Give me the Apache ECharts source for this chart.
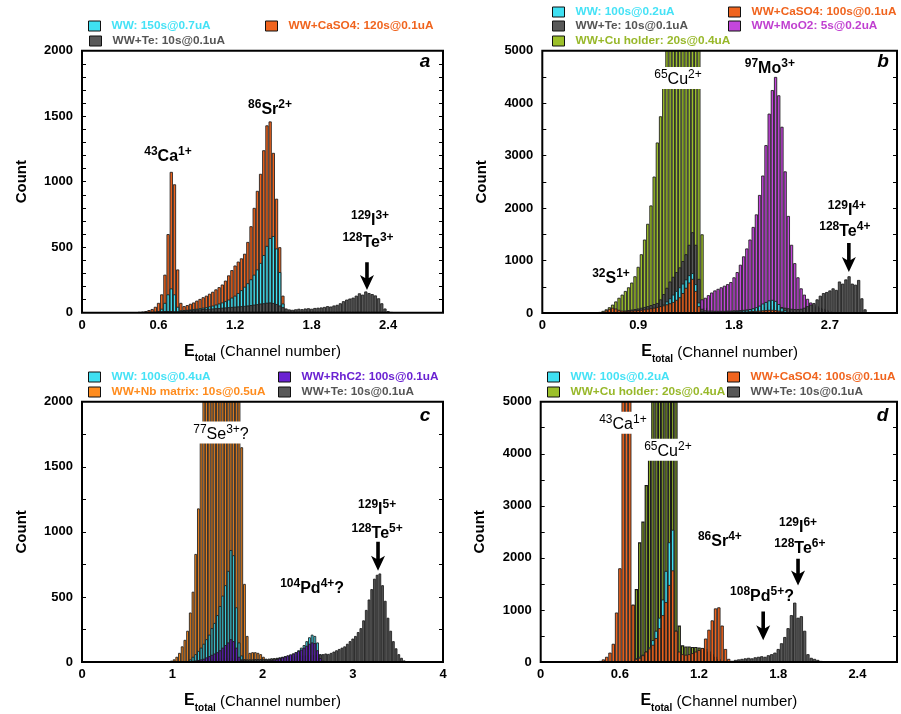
<!DOCTYPE html>
<html><head><meta charset="utf-8">
<script src="https://cdn.jsdelivr.net/npm/echarts@6/dist/echarts.min.js"></script>
<style>html,body{margin:0;padding:0;background:#fff}#c{width:901px;height:714px}</style>
</head><body><div id="c"></div>
<script>
// ---------------- DATA ----------------
// histogram bin step (channel units) per panel a,b,c,d
const binStep = [0.025, 0.03, 0.03, 0.025];
// axis ranges
const xMax = [2.83, 3.33, 4, 2.70];
const xInterval = [0.6, 0.9, 1, 0.6];
const yMax = [2000, 5000, 2000, 5000];
const yInterval = [500, 1000, 500, 1000];
const yMinorSplit = [5, 2, 2, 2];

// Panel a
const aCaSO4Start = 0.45;
const aCaSO4 = [5,8,12,20,28,45,75,140,290,600,1075,980,330,75,50,58,68,78,92,105,118,130,145,160,178,195,215,245,285,325,360,390,415,450,540,660,800,930,1060,1240,1430,1460,1220,870,500,130];
const aWWStart = 0.60;
const aWW = [10,30,75,140,185,140,45,18,20,22,25,28,30,34,38,42,48,54,62,70,78,88,100,115,130,150,172,198,225,255,290,330,380,440,510,570,585,490,310,70];
const aTeStart = 0.55;
const aTe = [3,5,8,10,12,12,12,10,10,14,15,18,20,22,24,25,28,29,30,32,34,35,38,40,42,44,46,48,50,52,55,58,62,65,70,72,76,78,74,66,55,42,32,25,22,26,30,27,32,34,30,36,38,40,44,50,47,55,60,72,88,100,108,115,130,148,138,162,150,142,132,110,72,32,12,4];

// Panel b
const bCuStart = 0.51;
const bCu = [10,20,40,70,110,160,220,290,350,420,490,580,700,880,1120,1400,1700,2050,2600,3250,3750,4300,5600,7000,8200,9200,9800,10000,9600,9000,8200,7200,6000,1500,100];
const bMoStart = 1.50;
const bMo = [260,290,340,390,430,460,490,520,550,590,680,780,920,1080,1230,1400,1640,1880,2250,2620,3200,3800,4250,4500,4150,3550,2700,1850,1300,950,680,470,350,270,200,170,130,100,80,60,40,25];
const bTeStart = 0.63;
const bTe = [10,15,20,25,35,45,55,65,75,85,100,115,130,150,170,190,260,360,480,600,690,780,870,990,1120,1300,1540,1300,650,80,50,45,45,40,40,40,40,45,45,50,50,55,60,65,70,80,90,100,110,120,130,135,130,120,110,100,90,80,75,75,80,100,130,160,190,260,330,380,400,430,470,440,600,560,640,700,560,540,630,280,70,15];
const bWWStart = 0.84;
const bWW = [10,15,20,30,40,50,60,75,95,120,160,220,280,350,420,490,560,640,720,760,550,200,30,15,15,15,15,18,20,22,25,28,30,35,40,50,60,75,90,110,140,180,210,240,250,230,170,100,50,20];
const bCaSO4Start = 0.57;
const bCaSO4 = [20,50,80,100,85,60,45,40,40,45,50,55,60,70,80,90,100,115,130,145,165,185,210,250,300,380,480,580,650,420,130,20,10,10,10,10,10,12,12,15,15,18,20,22,25,28,32,36,40,45,50,55,60,60,55,45,30,15];

// Panel c
const cNbStart = 0.99;
const cNb = [10,20,40,70,120,170,240,380,540,830,1180,1750,2500,3000,3500,3800,4000,4000,3800,3600,3400,3200,3000,2800,2500,2200,1650,600,200,70,75,75,70,60,40,20,8];
const cWWStart = 1.20;
const cWW = [20,40,60,85,110,140,175,210,260,300,360,430,510,590,700,860,820,420,150,50,20,15,15,15,15,15,15,15,20,20,25,25,30,35,40,45,50,55,65,75,90,110,130,160,190,210,200,150,60,15];
const cTeStart = 1.20;
const cTe = [5,8,10,12,15,18,20,22,24,25,26,28,30,30,30,30,28,25,22,20,20,20,20,20,22,22,22,24,25,26,28,30,32,34,36,38,40,42,44,46,48,50,50,52,52,54,55,56,58,60,65,62,70,80,90,100,110,120,140,160,180,200,230,260,320,400,480,560,640,670,680,590,470,340,240,160,105,60,32,12,5];
const cRhStart = 1.26;
const cRh = [10,15,20,25,35,45,55,65,75,90,110,130,150,175,160,110,40,15,10,8,8,8,8,8,8,10,10,12,15,18,22,28,35,42,50,58,65,75,85,95,110,125,140,150,145,90,30,8];

// Panel d
const dCuStart = 0.70;
const dCu = [1100,1400,2300,2700,3400,4200,6000,7500,8500,9200,9500,9000,8000,6000,700,320,300,300,290,290,280,270,250,200,150,100,60,30];
const dWWStart = 0.70;
const dWW = [40,70,100,140,200,280,420,600,850,1200,1750,2300,2540,600,150,40];
const dCaSO4Start = 0.45;
const dCaSO4 = [20,50,100,180,350,950,1800,6000,7500,6500,1100,60,80,130,200,260,330,460,650,900,1150,1480,1760,600,200,150,140,150,170,200,230,270,450,620,800,1030,1050,700,250,60,20];
const dTeStart = 1.45;
const dTe = [20,40,50,60,70,80,70,90,100,110,100,130,150,180,250,360,480,650,900,1140,850,880,600,150,80,60,40,20];

// Series names
const nA = ['WW+CaSO4: 120s@0.1uA', 'WW: 150s@0.7uA', 'WW+Te: 10s@0.1uA'];
const nB = ['WW+Cu holder: 20s@0.4uA', 'WW+MoO2: 5s@0.2uA', 'WW+Te: 10s@0.1uA', 'WW: 100s@0.2uA', 'WW+CaSO4: 100s@0.1uA'];
const nC = ['WW+Nb matrix: 10s@0.5uA', 'WW: 100s@0.4uA', 'WW+Te: 10s@0.1uA', 'WW+RhC2: 100s@0.1uA'];
const nD = ['WW+Cu holder: 20s@0.4uA', 'WW: 100s@0.2uA', 'WW+CaSO4: 100s@0.1uA', 'WW+Te: 10s@0.1uA'];

// Annotations [x, y, richText, kind]  (data coordinates)
const annA = [[0.674,1204,'{s|43}{m|Ca}{s|1+}','b'],[1.474,1563,'{s|86}{m|Sr}{s|2+}','b'],[2.258,715,'{s|129}{m|I}{s|3+}','b'],[2.242,547,'{s|128}{m|Te}{s|3+}','b'],[2.69,1915,'a','l']];
const annB = [[1.274,4480,'{s|65}{m|Cu}{s|2+}','w'],[2.136,4689,'{s|97}{m|Mo}{s|3+}','b'],[0.645,686,'{s|32}{m|S}{s|1+}','b'],[2.86,1982,'{s|129}{m|I}{s|4+}','b'],[2.84,1582,'{s|128}{m|Te}{s|4+}','b'],[3.2,4780,'b','l']];
const annC = [[1.54,1763,'{s|77}{m|Se}{s|3+}{m|?}','w'],[3.27,1183,'{s|129}{m|I}{s|5+}','b'],[3.27,1000,'{s|128}{m|Te}{s|5+}','b'],[2.55,572,'{s|104}{m|Pd}{s|4+}{m|?}','b'],[3.80,1890,'c','l']];
const annD = [[0.623,4594,'{s|43}{m|Ca}{s|1+}','w'],[0.964,4079,'{s|65}{m|Cu}{s|2+}','w'],[1.358,2345,'{s|86}{m|Sr}{s|4+}','b'],[1.95,2612,'{s|129}{m|I}{s|6+}','b'],[1.964,2211,'{s|128}{m|Te}{s|6+}','b'],[1.677,1277,'{s|108}{m|Pd}{s|5+}{m|?}','b'],[2.59,4727,'d','l']];
// Arrows [x, yStart, yTip]
const arrA = [[2.234,386,173]];
const arrB = [[2.878,1334,780]];
const arrC = [[3.28,924,702]];
const arrD = [[1.95,1982,1468],[1.686,972,419]];

// ---------------- STYLE / LAYOUT ----------------
const FONT = "'Liberation Sans', Arial, Helvetica, sans-serif";
const C = {cyan:'#3fe0f2', caso4:'#f0641e', te:'#585858', cu:'#9cc02a', mo:'#c446dc', rh:'#6a22d2', nb:'#ff8c1e'};
const grids = [
  {left:82, top:50.7, width:361, height:262},
  {left:542.3, top:50.7, width:354.7, height:262.3},
  {left:82, top:401.7, width:361, height:262.3},
  {left:540.7, top:401.7, width:356.3, height:262.3}
];

function bins(start, step, vals) {
  return vals.map((v, i) => [Math.round((start + i * step) * 10000) / 10000, v]);
}
function bar(g, name, color, start, vals, bw) {
  const w = binStep[g] * grids[g].width / xMax[g];
  return {
    type:'bar', name, xAxisIndex:g, yAxisIndex:g*2, data:bins(start, binStep[g], vals),
    barWidth:w, barGap:'-100%', clip:true, silent:true,
    itemStyle:{color, borderColor:'#1a1a1a', borderWidth:bw || 0.85},
    emphasis:{disabled:true}
  };
}

const series = [
  bar(0, nA[0], C.caso4, aCaSO4Start, aCaSO4),
  bar(0, nA[1], C.cyan, aWWStart, aWW),
  bar(0, nA[2], C.te, aTeStart, aTe),
  bar(1, nB[0], C.cu, bCuStart, bCu),
  bar(1, nB[1], C.mo, bMoStart, bMo),
  bar(1, nB[2], C.te, bTeStart, bTe),
  bar(1, nB[3], C.cyan, bWWStart, bWW),
  bar(1, nB[4], C.caso4, bCaSO4Start, bCaSO4),
  bar(2, nC[0], C.nb, cNbStart, cNb),
  bar(2, nC[1], C.cyan, cWWStart, cWW),
  bar(2, nC[2], C.te, cTeStart, cTe),
  bar(2, nC[3], C.rh, cRhStart, cRh),
  bar(3, nD[0], C.cu, dCuStart, dCu, 1.2),
  bar(3, nD[1], C.cyan, dWWStart, dWW),
  bar(3, nD[2], C.caso4, dCaSO4Start, dCaSO4),
  bar(3, nD[3], C.te, dTeStart, dTe)
];

const xAxes = [], yAxes = [];
for (let g = 0; g < 4; g++) {
  xAxes.push({
    gridIndex:g, type:'value', min:0, max:xMax[g], interval:xInterval[g], z:10,
    axisLine:{show:false}, axisTick:{show:false}, splitLine:{show:false},
    axisLabel:{fontFamily:FONT, fontSize:13, fontWeight:'bold', color:'#000', margin:6, showMaxLabel:g === 2,
      formatter:v => String(v)},
    name:'{e|E}{t|total}{n| (Channel number)}', nameLocation:'middle', nameGap:31,
    nameTextStyle:{color:'#000', rich:{
      e:{fontFamily:FONT, fontSize:16, fontWeight:'bold', color:'#000', verticalAlign:'bottom', padding:[0,0,4,0]},
      t:{fontFamily:FONT, fontSize:10, fontWeight:'bold', color:'#000', verticalAlign:'bottom'},
      n:{fontFamily:FONT, fontSize:15, color:'#000', verticalAlign:'bottom', padding:[0,0,4,0]}
    }}
  });
  const common = {
    gridIndex:g, type:'value', min:0, max:yMax[g], interval:yInterval[g], z:10,
    axisLine:{show:false},
    axisTick:{show:true, inside:true, length:4, lineStyle:{color:'#000', width:1}},
    minorTick:{show:true, splitNumber:yMinorSplit[g], length:4, lineStyle:{color:'#000', width:1}},
    splitLine:{show:false}, minorSplitLine:{show:false}
  };
  yAxes.push(Object.assign({}, common, {
    position:'left',
    axisLabel:{fontFamily:FONT, fontSize:13, fontWeight:'bold', color:'#000', margin:9, formatter:v => String(v)},
    name:'Count', nameLocation:'middle', nameGap:53,
    nameTextStyle:{fontFamily:FONT, fontSize:15, fontWeight:'bold', color:'#000'}
  }));
  yAxes.push(Object.assign({}, common, {position:'right', axisLabel:{show:false}}));
}

const legendItems = [
  [nA[1], C.cyan, '#45e2f6', 88, 20], [nA[0], C.caso4, '#f0641e', 265, 20], [nA[2], C.te, '#555', 89, 35],
  [nB[3], C.cyan, '#45e2f6', 552, 6], [nB[4], C.caso4, '#f0641e', 728, 6], [nB[2], C.te, '#555', 552, 20],
  [nB[1], C.mo, '#c040d0', 728, 20], [nB[0], C.cu, '#98b82a', 552, 35],
  [nC[1], C.cyan, '#45e2f6', 88, 371], [nC[3], C.rh, '#6a22d2', 278, 371], [nC[0], C.nb, '#ff8c1e', 88, 386], [nC[2], C.te, '#555', 278, 386],
  [nD[1], C.cyan, '#45e2f6', 547, 371], [nD[2], C.caso4, '#f0641e', 727, 371], [nD[0], C.cu, '#98b82a', 547, 386], [nD[3], C.te, '#555', 727, 386]
];
const legends = legendItems.map(it => ({
  data:[{name:it[0], textStyle:{color:it[2]}, itemStyle:{color:it[1]}}],
  left:it[3], top:it[4], padding:0, icon:'rect', itemWidth:12, itemHeight:10, selectedMode:false,
  textStyle:{fontFamily:FONT, fontSize:11.8, fontWeight:'bold', padding:[0,0,0,6]},
  itemStyle:{borderColor:'#111', borderWidth:1}
}));

const chart = echarts.init(document.getElementById('c'));
chart.setOption({
  animation:false,
  backgroundColor:'#fff',
  grid:grids.map(g => Object.assign({show:true, borderColor:'#000', borderWidth:2, backgroundColor:'transparent', z:10, containLabel:false}, g)),
  xAxis:xAxes, yAxis:yAxes, legend:legends, series
});

// annotations positioned through the axes' scales
function annotEl(g, a) {
  const p = chart.convertToPixel({xAxisIndex:g, yAxisIndex:g*2}, [a[0], a[1]]);
  const kind = a[3];
  const weight = kind === 'w' ? 'normal' : 'bold';
  const style = {
    x:p[0], y:p[1], text:a[2], align:'center', verticalAlign:'middle', textAlign:'center', textVerticalAlign:'middle',
    fill:'#000', fontFamily:FONT, fontSize:16, fontWeight:weight,
    rich:{
      m:{fill:'#000', fontFamily:FONT, fontSize:16, fontWeight:weight, verticalAlign:'bottom'},
      s:{fill:'#000', fontFamily:FONT, fontSize:12, fontWeight:weight, verticalAlign:'bottom', padding:[0,0,7,0]}
    }
  };
  if (kind === 'w') { style.backgroundColor = '#fff'; style.padding = [2,3,1,3]; }
  if (kind === 'l') { style.fontSize = 19; style.fontStyle = 'italic'; delete style.rich; }
  return {type:'text', z:100, silent:true, style};
}
function arrowEl(g, a) {
  const p1 = chart.convertToPixel({xAxisIndex:g, yAxisIndex:g*2}, [a[0], a[1]]);
  const p2 = chart.convertToPixel({xAxisIndex:g, yAxisIndex:g*2}, [a[0], a[2]]);
  const x = p1[0], y1 = p1[1], y2 = p2[1];
  const hw = 1.8, head = 7, hl = 15;
  return {type:'polygon', z:100, silent:true,
    shape:{points:[[x-hw,y1],[x+hw,y1],[x+hw,y2-hl+3],[x+head,y2-hl],[x,y2],[x-head,y2-hl],[x-hw,y2-hl+3]]},
    style:{fill:'#000'}};
}
const els = [];
[annA, annB, annC, annD].forEach((list, g) => list.forEach(a => els.push(annotEl(g, a))));
[arrA, arrB, arrC, arrD].forEach((list, g) => list.forEach(a => els.push(arrowEl(g, a))));
chart.setOption({graphic:els});
</script></body></html>
